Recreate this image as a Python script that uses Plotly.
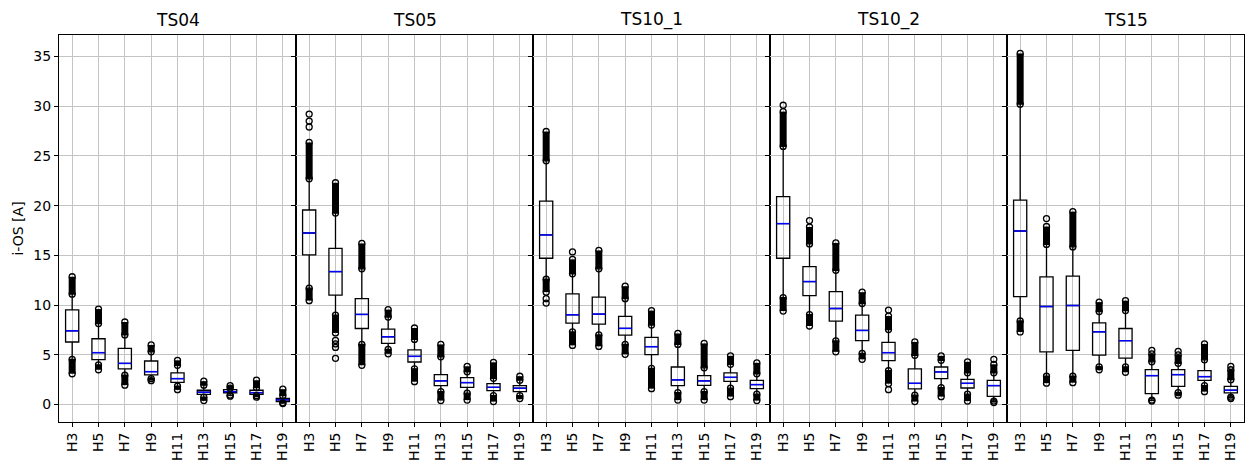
import plotly.graph_objects as go

# Harmonic orders shown on every panel
harmonics = ["H3", "H5", "H7", "H9", "H11", "H13", "H15", "H17", "H19"]
panels = ["TS04", "TS05", "TS10_1", "TS10_2", "TS15"]

# Box statistics per panel, one value per harmonic [A]
# lo_min / hi_max: extreme of the dense outlier runs
# lo_fence / hi_fence: whisker ends (start of the outlier runs)
ts04_lo_min   = [3.10, 3.50, 1.95, 2.40, 1.50, 0.40, 0.85, 0.75, 0.10]
ts04_lo_fence = [4.55, 4.00, 2.95, 2.60, 1.85, 0.75, 0.95, 0.90, 0.18]
ts04_q1       = [6.29, 4.51, 3.58, 2.98, 2.24, 1.03, 1.17, 1.03, 0.30]
ts04_median   = [7.42, 5.22, 4.14, 3.31, 2.61, 1.24, 1.30, 1.20, 0.47]
ts04_q3       = [9.53, 6.62, 5.65, 4.38, 3.18, 1.44, 1.50, 1.44, 0.63]
ts04_hi_fence = [11.10, 8.15, 7.00, 5.30, 3.95, 1.95, 1.65, 1.70, 0.90]
ts04_hi_max   = [12.85, 9.60, 8.30, 6.00, 4.45, 2.35, 1.90, 2.45, 1.55]
ts04_single   = [[], [], [], [], [], [], [], [], []]

ts05_lo_min   = [10.45, 7.20, 3.95, 5.10, 2.30, 0.40, 0.45, 0.30, 0.60]
ts05_lo_fence = [11.70, 9.00, 6.05, 5.55, 3.60, 1.30, 1.15, 0.90, 0.90]
ts05_q1       = [15.05, 11.00, 7.65, 6.15, 4.28, 1.91, 1.74, 1.40, 1.30]
ts05_median   = [17.25, 13.37, 9.06, 6.82, 4.85, 2.38, 2.21, 1.74, 1.64]
ts05_q3       = [19.56, 15.70, 10.66, 7.59, 5.49, 3.01, 2.71, 2.11, 1.91]
ts05_hi_fence = [22.70, 19.25, 13.65, 8.80, 6.55, 4.80, 3.30, 2.65, 2.45]
ts05_hi_max   = [26.35, 22.30, 16.20, 9.55, 7.70, 6.05, 3.85, 4.25, 2.85]
ts05_single   = [[27.9, 28.5, 29.2], [6.45, 6.1, 5.75, 4.65], [], [], [], [], [], [], []]

ts10_1_lo_min   = [11.30, 5.95, 5.85, 5.05, 1.60, 0.45, 0.45, 0.80, 0.40]
ts10_1_lo_fence = [12.60, 7.30, 7.00, 6.05, 3.65, 1.20, 1.30, 1.65, 1.05]
ts10_1_q1       = [14.71, 8.19, 8.09, 6.99, 5.02, 1.91, 1.94, 2.34, 1.60]
ts10_1_median   = [17.05, 9.03, 9.10, 7.66, 5.82, 2.48, 2.38, 2.74, 2.01]
ts10_1_q3       = [20.46, 11.13, 10.80, 8.86, 6.75, 3.78, 2.91, 3.18, 2.44]
ts10_1_hi_fence = [24.50, 13.15, 13.65, 10.65, 8.00, 6.05, 3.70, 4.05, 3.10]
ts10_1_hi_max   = [27.45, 14.60, 15.50, 11.90, 9.45, 7.15, 6.15, 4.90, 4.20]
ts10_1_single   = [[10.65, 10.2], [15.35], [], [], [], [], [], [], []]

ts10_2_lo_min   = [9.40, 7.90, 5.30, 4.55, 2.10, 0.30, 0.80, 0.35, 0.20]
ts10_2_lo_fence = [10.75, 9.05, 6.40, 5.15, 3.40, 0.95, 1.70, 1.05, 0.35]
ts10_2_q1       = [14.71, 10.96, 8.39, 6.42, 4.41, 1.57, 2.61, 1.67, 0.83]
ts10_2_median   = [18.19, 12.37, 9.66, 7.45, 5.22, 2.14, 3.28, 2.14, 1.91]
ts10_2_q3       = [20.90, 13.87, 11.36, 9.00, 6.25, 3.58, 3.78, 2.54, 2.44]
ts10_2_hi_fence = [25.95, 16.15, 13.50, 10.15, 7.55, 4.95, 4.45, 3.20, 3.20]
ts10_2_hi_max   = [29.45, 17.85, 16.25, 11.30, 8.90, 6.30, 4.90, 4.30, 4.05]
ts10_2_single   = [[30.09], [18.5], [], [], [9.5, 1.5], [], [], [], [4.55]]

ts15_lo_min   = [7.30, 2.15, 2.20, 3.50, 3.25, 0.35, 0.95, 1.30, 0.60]
ts15_lo_fence = [8.40, 2.85, 2.85, 3.80, 3.80, 0.45, 1.20, 1.90, 0.75]
ts15_q1       = [10.86, 5.29, 5.45, 4.98, 4.68, 1.10, 1.84, 2.44, 1.17]
ts15_median   = [17.45, 9.86, 9.96, 7.32, 6.42, 2.91, 3.01, 2.81, 1.44]
ts15_q3       = [20.56, 12.84, 12.91, 8.22, 7.65, 3.51, 3.51, 3.41, 1.84]
ts15_hi_fence = [30.20, 16.10, 15.85, 9.35, 9.45, 4.30, 4.15, 4.50, 2.50]
ts15_hi_max   = [35.30, 17.90, 19.40, 10.30, 10.45, 5.10, 5.00, 6.10, 3.50]
ts15_single   = [[], [18.7], [], [], [], [5.45], [5.35], [], [3.84]]

panel_stats = [
    (ts04_lo_min, ts04_lo_fence, ts04_q1, ts04_median, ts04_q3, ts04_hi_fence, ts04_hi_max, ts04_single),
    (ts05_lo_min, ts05_lo_fence, ts05_q1, ts05_median, ts05_q3, ts05_hi_fence, ts05_hi_max, ts05_single),
    (ts10_1_lo_min, ts10_1_lo_fence, ts10_1_q1, ts10_1_median, ts10_1_q3, ts10_1_hi_fence, ts10_1_hi_max, ts10_1_single),
    (ts10_2_lo_min, ts10_2_lo_fence, ts10_2_q1, ts10_2_median, ts10_2_q3, ts10_2_hi_fence, ts10_2_hi_max, ts10_2_single),
    (ts15_lo_min, ts15_lo_fence, ts15_q1, ts15_median, ts15_q3, ts15_hi_fence, ts15_hi_max, ts15_single),
]

FONT = "DejaVu Sans"
GRID = "#c4c4c4"
BOX_W = 0.5
TICK_SIZE = 14
positions = list(range(1, len(harmonics) + 1))

fig = go.Figure()
n = len(panels)

for k, (name, stats) in enumerate(zip(panels, panel_stats)):
    lo_min, lo_f, q1, med, q3, hi_f, hi_max, single = stats
    xa = "x" if k == 0 else f"x{k + 1}"
    ya = "y" if k == 0 else f"y{k + 1}"

    # boxes and whiskers
    fig.add_trace(go.Box(
        x=positions, q1=q1, median=med, q3=q3,
        lowerfence=lo_f, upperfence=hi_f,
        width=BOX_W, whiskerwidth=0.5, boxpoints=False,
        line=dict(color="black", width=1.3),
        fillcolor="rgba(0,0,0,0)",
        xaxis=xa, yaxis=ya, showlegend=False, hoverinfo="skip",
    ))

    # blue medians
    mx, my = [], []
    for p, m in zip(positions, med):
        mx += [p - BOX_W / 2, p + BOX_W / 2, None]
        my += [m, m, None]
    fig.add_trace(go.Scatter(
        x=mx, y=my, mode="lines", line=dict(color="#0000ff", width=1.5),
        xaxis=xa, yaxis=ya, showlegend=False, hoverinfo="skip",
    ))

    # dense runs of outliers (drawn as overlapping circles)
    ox, oy = [], []
    for p, a, b, c, d in zip(positions, lo_min, lo_f, hi_f, hi_max):
        ox += [p, p, None, p, p, None]
        oy += [a, b, None, c, d, None]
    fig.add_trace(go.Scatter(
        x=ox, y=oy, mode="lines+markers",
        line=dict(color="black", width=7),
        marker=dict(symbol="circle-open", size=6, color="black",
                    line=dict(width=1.3, color="black")),
        xaxis=xa, yaxis=ya, showlegend=False, hoverinfo="skip",
    ))

    # isolated outliers
    sx, sy = [], []
    for p, vals in zip(positions, single):
        for v in vals:
            sx.append(p)
            sy.append(v)
    if sx:
        fig.add_trace(go.Scatter(
            x=sx, y=sy, mode="markers",
            marker=dict(symbol="circle-open", size=6, color="black",
                        line=dict(width=1.3, color="black")),
            xaxis=xa, yaxis=ya, showlegend=False, hoverinfo="skip",
        ))

    axis_common = dict(
        showgrid=True, gridcolor=GRID, gridwidth=1,
        showline=True, mirror=True, linecolor="black", linewidth=1,
        ticks="outside", ticklen=4, tickcolor="black", tickwidth=1,
        zeroline=False, automargin=False,
        tickfont=dict(family=FONT, size=TICK_SIZE, color="black"),
    )
    fig.layout[f"xaxis{'' if k == 0 else k + 1}"] = dict(
        axis_common,
        domain=[k / n, (k + 1) / n], anchor=ya,
        range=[0.5, 9.5], tickmode="array",
        tickvals=positions, ticktext=harmonics, tickangle=-90,
    )
    yax = dict(
        axis_common,
        domain=[0, 1], anchor=xa,
        range=[-1.75, 37.15], tickmode="array",
        tickvals=[0, 5, 10, 15, 20, 25, 30, 35],
    )
    if k == 0:
        yax["title"] = dict(text="i-OS [A]",
                            font=dict(family=FONT, size=TICK_SIZE, color="black"),
                            standoff=6)
    else:
        yax["matches"] = "y"
        yax["showticklabels"] = False
    fig.layout[f"yaxis{'' if k == 0 else k + 1}"] = yax

    fig.add_annotation(
        text=name, xref="paper", yref="paper",
        x=(k + 0.5) / n, y=1, xanchor="center", yanchor="bottom",
        yshift=3, showarrow=False,
        font=dict(family=FONT, size=17, color="black"),
    )

fig.update_layout(
    width=1249, height=464,
    margin=dict(l=59, r=5, t=35, b=42, autoexpand=False),
    paper_bgcolor="white", plot_bgcolor="white",
    font=dict(family=FONT, size=TICK_SIZE, color="black"),
    showlegend=False,
)

fig.write_html("out.html")
